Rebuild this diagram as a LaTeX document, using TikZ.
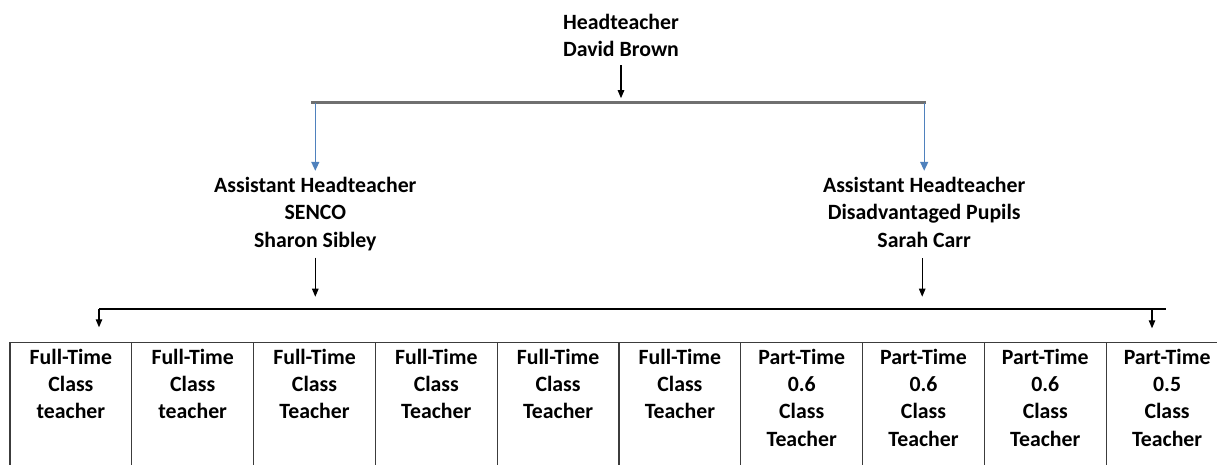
\documentclass[tikz,border=0pt]{standalone}
\usepackage{fontspec}
\setmainfont{Carlito}
\usetikzlibrary{arrows.meta}
\definecolor{linkblue}{HTML}{4F81BD}
\definecolor{bargray}{HTML}{707070}
\definecolor{gridgray}{HTML}{3C3C3C}

\begin{document}
\begin{tikzpicture}[x=1pt,y=-1pt,
		role/.style={align=center,inner sep=0pt,anchor=base,font=\fontsize{21.8}{27.4}\selectfont\bfseries},
		cell/.style={align=center,inner sep=0pt,anchor=base,font=\fontsize{21.8}{27.2}\selectfont\bfseries},
		down/.style={-{Triangle[width=6.5pt,length=8pt]},line width=1.1pt},
		bluedown/.style={-{Triangle[width=8pt,length=9pt]},linkblue,line width=1.3pt},
		grid/.style={gridgray,line width=1.2pt}]
		\useasboundingbox (0,0) rectangle (1217,465);
		
		% head and the two assistants (placed by the last baseline)
		\node[role] (head) at (621,56.7) {Headteacher\\David Brown};
		\node[role] (ahsenco) at (315.3,247.1) {Assistant Headteacher\\SENCO\\Sharon Sibley};
		\node[role] (ahpupils) at (924.2,247.1) {Assistant Headteacher\\Disadvantaged Pupils\\Sarah Carr};
		
		\coordinate (barleft) at (311,102.7);
		\coordinate (barright) at (926,102.7);
		\draw[down,shorten <=8pt,shorten >=4.5pt] (head) -- (head |- barleft);
		\draw[bargray,line width=2.6pt] (barleft) -- (barright);
		\draw[bluedown,shorten >=6pt] (ahsenco.north |- barleft) -- (ahsenco.north);
		\draw[bluedown,shorten >=6pt] (ahpupils.north |- barright) -- (ahpupils.north);
		
		% joining line above the staff
		\coordinate (rowleft) at (99,309);
		\coordinate (rowright) at (1166,309);
		\coordinate (dropright) at (1152,309);
		\coordinate (tabletop) at (10,342.3);
		\draw[down,shorten <=7pt,shorten >=12.3pt] (ahsenco) -- (ahsenco.south |- rowleft);
		\draw[down,shorten <=11pt,shorten >=12.3pt] ([xshift=-2pt]ahpupils.south) -- ([xshift=-2pt]ahpupils.south |- rowleft);
		\draw[line width=1.3pt] (rowleft) -- (rowright);
		\draw[down,shorten >=15pt] (rowleft) -- (rowleft |- tabletop);
		\draw[down,shorten >=14pt] (dropright) -- (dropright |- tabletop);
		
		% staff table
		\draw[grid] (tabletop) -- (1217,342.3);
		\foreach \i in {0,...,9}
			\draw[grid] ({10+121.8*\i},342.3) -- ({10+121.8*\i},465);
		\foreach \who/\lastline [count=\i from 0] in {Full-Time\\Class\\teacher/418.9, Full-Time\\Class\\teacher/418.9,
			Full-Time\\Class\\Teacher/418.9, Full-Time\\Class\\Teacher/418.9, Full-Time\\Class\\Teacher/418.9,
			Full-Time\\Class\\Teacher/418.9, Part-Time\\0.6\\Class\\Teacher/446.1, Part-Time\\0.6\\Class\\Teacher/446.1,
			Part-Time\\0.6\\Class\\Teacher/446.1, Part-Time\\0.5\\Class\\Teacher/446.1}
			\node[cell] (staff\i) at ({70.9+121.8*\i},\lastline) {\who};
	\end{tikzpicture}
\end{document}
